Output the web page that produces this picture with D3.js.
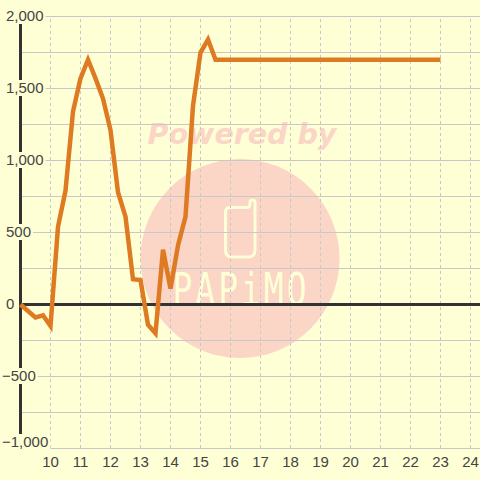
<!DOCTYPE html>
<html>
<head>
<meta charset="utf-8">
<script src="https://cdn.jsdelivr.net/npm/d3@7/dist/d3.min.js"></script>
<style>
    html, body { margin: 0; padding: 0; background: #ffffd6; }
    svg { display: block; }
    text { font-family: "Liberation Sans", sans-serif; }
</style>
</head>
<body>
<div id="chart"></div>
<script>
const hours = [9, 9.25, 9.5, 9.75, 10, 10.25, 10.5, 10.75, 11, 11.25, 11.5, 11.75, 12, 12.25, 12.5, 12.75,
    13, 13.25, 13.5, 13.75, 14, 14.25, 14.5, 14.75, 15, 15.25, 15.5, 23];
const values = [0, -45, -90, -75, -150, 540, 790, 1340, 1570, 1700, 1570, 1430, 1210, 780, 610, 175,
    170, -140, -200, 380, 110, 410, 610, 1380, 1750, 1840, 1700, 1700];
const xTicks = [10, 11, 12, 13, 14, 15, 16, 17, 18, 19, 20, 21, 22, 23, 24];
const yLabels = [-1000, -500, 0, 500, 1000, 1500, 2000];
const yGrid = [-1000, -750, -500, -250, 0, 250, 500, 750, 1000, 1250, 1500, 1750, 2000];

const size = 480;
const x = d3.scaleLinear().domain([9, 24]).range([20, 470]);
const y = d3.scaleLinear().domain([-1000, 2000]).range([448, 16]);
const fmt = d3.format(",");

const svg = d3.select("#chart").append("svg")
    .attr("width", size)
    .attr("height", size);

svg.append("rect").attr("width", size).attr("height", size).attr("fill", "#ffffd6");

// watermark sits under the grid
const mark = svg.append("g");
mark.append("circle").attr("cx", 240).attr("cy", 258.5).attr("r", 99.5).attr("fill", "#fbd5c6");
mark.append("text")
    .attr("x", 242).attr("y", 144)
    .attr("text-anchor", "middle")
    .style("font-family", "'DejaVu Sans'")
    .style("font-weight", "bold")
    .style("font-style", "italic")
    .style("font-size", "28.5px")
    .attr("fill", "#fbd5c6")
    .text("Powered by");
mark.append("path")
    .attr("d", "M230 207.5H247Q250 207 250 204V202Q250 200 252.5 200Q255 200 255 202V250Q255 257 248 257H232Q225.5 257 225.5 250V212Q225.5 207.5 230 207.5Z")
    .attr("fill", "none")
    .attr("stroke", "#ffffd6")
    .attr("stroke-width", 3);
mark.append("text")
    .attr("transform", "translate(241,305) scale(0.75,1)")
    .attr("text-anchor", "middle")
    .style("font-family", "'DejaVu Sans Mono'")
    .style("font-size", "44px")
    .style("letter-spacing", "4px")
    .attr("fill", "#ffffd6")
    .text("PAPiMO");

// horizontal grid
const gridY = svg.append("g")
    .call(d3.axisLeft(y).tickValues(yGrid).tickSize(-(size - 20)).tickFormat(""))
    .attr("transform", "translate(20,0)");
gridY.select(".domain").remove();
gridY.selectAll("line").attr("stroke", "#c8c8c8").attr("stroke-width", 1);

// vertical dashed grid
const gridX = svg.append("g")
    .call(d3.axisBottom(x).tickValues(xTicks).tickSize(-(y(-1000) - y(2000))).tickFormat(""))
    .attr("transform", `translate(0,${y(-1000)})`);
gridX.select(".domain").remove();
gridX.selectAll("line").attr("stroke", "#c8c8c8").attr("stroke-dasharray", "3,3");

// axis lines, half pixel shift keeps them on the same rows as the grid
svg.append("line")
    .attr("x1", x(9)).attr("x2", size)
    .attr("y1", y(0) + 0.5).attr("y2", y(0) + 0.5)
    .attr("stroke", "#333").attr("stroke-width", 3);
svg.append("line")
    .attr("x1", x(9) + 0.5).attr("x2", x(9) + 0.5)
    .attr("y1", y(2000)).attr("y2", y(-1000))
    .attr("stroke", "#333").attr("stroke-width", 3);

// y labels have a background that cuts the axis and grid
const labelsY = svg.append("g").selectAll("g")
    .data(yLabels)
    .join("g")
    .attr("transform", d => `translate(${d < 0 ? 2 : 6},${d === -1000 ? y(d) - 6 : y(d)})`);
const yText = labelsY.append("text")
    .attr("dy", "0.36em")
    .attr("font-size", 15)
    .attr("fill", "#444")
    .text(d => fmt(d));
yText.each(function () {
    const box = this.getBBox();
    d3.select(this.parentNode).insert("rect", "text")
        .attr("x", box.x - 2)
        .attr("y", -8)
        .attr("width", box.width + 4)
        .attr("height", 16)
        .attr("fill", "#ffffd6");
});

// x labels
svg.append("g").selectAll("text")
    .data(xTicks)
    .join("text")
    .attr("x", d => x(d) + 0.5)
    .attr("y", 467)
    .attr("text-anchor", "middle")
    .attr("font-size", 15)
    .attr("fill", "#444")
    .text(d => d);

const line = d3.line()
    .x((d, i) => x(hours[i]))
    .y(d => y(d));

svg.append("path")
    .datum(values)
    .attr("transform", "translate(0.5,0.5)")
    .attr("fill", "none")
    .attr("stroke", "#de7a22")
    .attr("stroke-width", 4.5)
    .attr("d", line);
</script>
</body>
</html>
